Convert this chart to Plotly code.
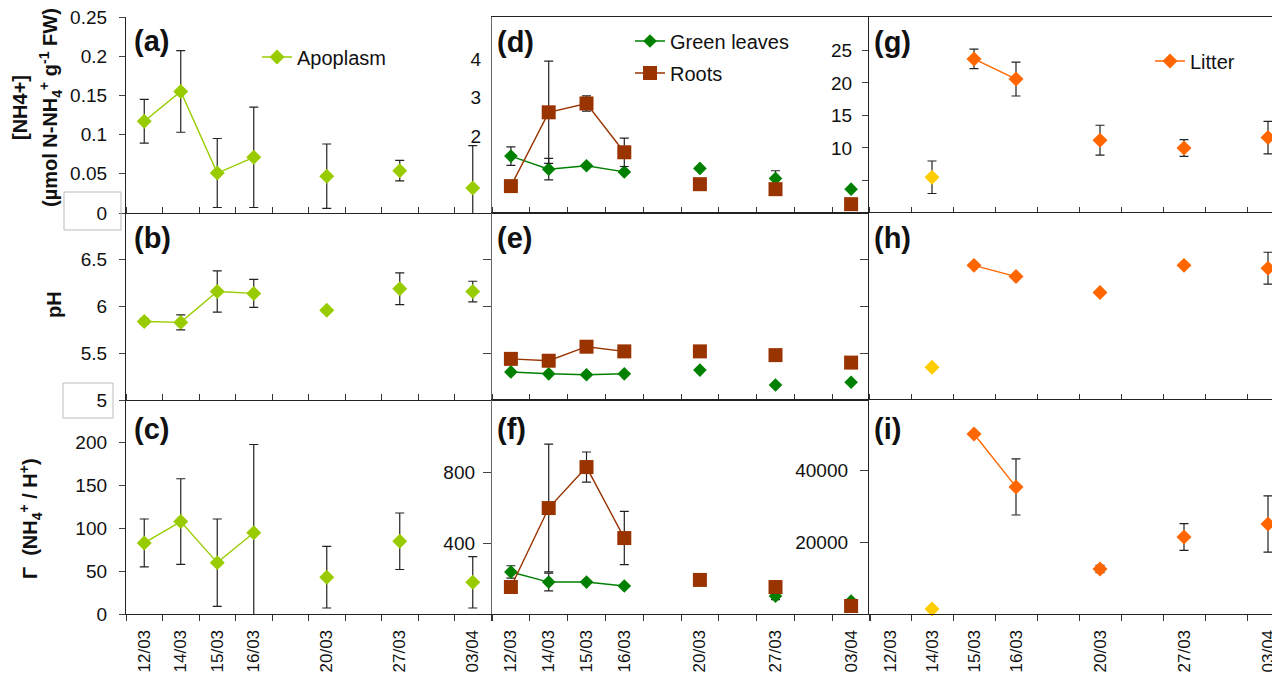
import plotly.graph_objects as go

# ---------------- data ----------------
categories = ['12/03', '14/03', '15/03', '16/03', '', '20/03', '', '27/03', '', '03/04']

# (a)-(c) Apoplasm
apo_nh4 = [0.117, 0.155, 0.051, 0.071, None, 0.047, None, 0.054, None, 0.032]
apo_nh4_err = [0.028, 0.052, 0.044, 0.064, None, 0.041, None, 0.013, None, 0.054]
apo_ph = [5.84, 5.83, 6.16, 6.14, None, 5.96, None, 6.19, None, 6.16]
apo_ph_err = [0.03, 0.08, 0.22, 0.15, None, None, None, 0.17, None, 0.11]
apo_gamma = [83, 108, 60, 95, None, 43, None, 85, None, 37]
apo_gamma_err = [28, 50, 51, 103, None, 36, None, 33, None, 30]

# (d)-(f) Green leaves and Roots
leaf_nh4 = [1.48, 1.14, 1.23, 1.07, None, 1.16, None, 0.90, None, 0.62]
leaf_nh4_err = [0.24, 0.28, None, None, None, None, None, 0.20, None, None]
root_nh4 = [0.70, 2.62, 2.85, 1.58, None, 0.75, None, 0.62, None, 0.23]
root_nh4_err = [None, 1.33, 0.20, 0.37, None, None, None, None, None, None]
leaf_ph = [5.30, 5.28, 5.27, 5.28, None, 5.32, None, 5.16, None, 5.19]
root_ph = [5.44, 5.42, 5.57, 5.52, None, 5.52, None, 5.48, None, 5.40]
root_ph_err = [None, 0.03, None, None, None, None, None, None, None, None]
leaf_gamma = [237, 180, 180, 158, None, 191, None, 101, None, 73]
leaf_gamma_err = [35, 50, None, None, None, None, None, 20, None, None]
root_gamma = [152, 597, 828, 428, None, 192, None, 152, None, 45]
root_gamma_err = [20, 360, 85, 150, None, None, None, None, None, None]

# (g)-(i) Litter (14/03 sample shown separately in yellow)
litter_nh4 = [None, None, 23.7, 20.6, None, 11.2, None, 10.0, None, 11.6]
litter_nh4_err = [None, None, 1.5, 2.6, None, 2.3, None, 1.3, None, 2.5]
early_nh4 = [None, 5.5, None, None, None, None, None, None, None, None]
early_nh4_err = [None, 2.5, None, None, None, None, None, None, None, None]
litter_ph = [None, None, 6.44, 6.32, None, 6.15, None, 6.44, None, 6.41]
litter_ph_err = [None, None, None, None, None, None, None, 0.02, None, 0.17]
early_ph = [None, 5.35, None, None, None, None, None, None, None, None]
litter_gamma = [None, None, 50000, 35300, None, 12500, None, 21400, None, 25000]
litter_gamma_err = [None, None, None, 7800, None, 1000, None, 3700, None, 7800]
early_gamma = [None, 1400, None, None, None, None, None, None, None, None]

# ---------------- layout helpers ----------------
W, H = 1280, 675
OFF = 8  # page body margin
FONT = 'Liberation Sans, Arial, sans-serif'
C_APO = '#99CC00'
C_LEAF = '#008000'
C_ROOT = '#993300'
C_LITTER = '#FF6600'
C_EARLY = '#FFCC00'
ERR = '#222222'


def fx(p):
    return (p - OFF) / W


def fy(p):
    return 1 - (p - OFF) / H


x_pos = list(range(len(categories)))
label_pos = [i for i, c in enumerate(categories) if c]
label_txt = [categories[i] for i in label_pos]
bounds = [i - 0.5 for i in range(len(categories) + 1)]

col_px = [(126, 491), (492, 870), (869, 1280)]
row_px = [(17, 213), (213, 400), (400, 614)]
col_xrange = [[-0.5, 9.5], [-0.5, 9.5], [-0.5, (1280 - 869) / 42 - 0.5]]

fig = go.Figure()


def ax_name(n):
    return '' if n == 1 else str(n)


def add(n, y, err, color, symbol, size, name=None, legend=None, width=1.4):
    e = dict(type='data', array=err, visible=True, color=ERR, thickness=1.2, width=4.5) if err else None
    fig.add_trace(go.Scatter(
        x=x_pos, y=y, xaxis='x' + ax_name(n), yaxis='y' + ax_name(n),
        mode='lines+markers', connectgaps=False,
        line=dict(color=color, width=width),
        marker=dict(symbol=symbol, size=size, color=color),
        error_y=e, name=name or '', showlegend=name is not None,
        legend=legend or 'legend', legendgroup=name, cliponaxis=False))


# panel numbering: 1=a,2=b,3=c,4=d,5=e,6=f,7=g,8=h,9=i
add(1, apo_nh4, apo_nh4_err, C_APO, 'diamond', 11.5, 'Apoplasm', 'legend')
add(2, apo_ph, apo_ph_err, C_APO, 'diamond', 11.5)
add(3, apo_gamma, apo_gamma_err, C_APO, 'diamond', 11.5)

add(4, leaf_nh4, leaf_nh4_err, C_LEAF, 'diamond', 10.5, 'Green leaves', 'legend2')
add(4, root_nh4, root_nh4_err, C_ROOT, 'square', 14, 'Roots', 'legend2')
add(5, leaf_ph, None, C_LEAF, 'diamond', 10.5)
add(5, root_ph, root_ph_err, C_ROOT, 'square', 14)
add(6, leaf_gamma, leaf_gamma_err, C_LEAF, 'diamond', 10.5)
add(6, root_gamma, root_gamma_err, C_ROOT, 'square', 14)

add(7, early_nh4, early_nh4_err, C_EARLY, 'diamond', 11.5)
add(7, litter_nh4, litter_nh4_err, C_LITTER, 'diamond', 11.5, 'Litter', 'legend3')
add(8, early_ph, None, C_EARLY, 'diamond', 11.5)
add(8, litter_ph, litter_ph_err, C_LITTER, 'diamond', 11.5)
add(9, early_gamma, None, C_EARLY, 'diamond', 11.5)
add(9, litter_gamma, litter_gamma_err, C_LITTER, 'diamond', 11.5)

y_specs = {
    1: dict(range=[0, 0.25], tickvals=[0, 0.05, 0.1, 0.15, 0.2, 0.25],
            ticktext=['0', '0.05', '0.1', '0.15', '0.2', '0.25'], ticks='outside', ticklen=6,
            showticklabels=True, standoff=8),
    2: dict(range=[5, 7.0], tickvals=[5, 5.5, 6, 6.5], ticktext=['5', '5.5', '6', '6.5'],
            ticks='outside', ticklen=6, showticklabels=True, standoff=8),
    3: dict(range=[0, 250], tickvals=[0, 50, 100, 150, 200], ticktext=['0', '50', '100', '150', '200'],
            ticks='outside', ticklen=6, showticklabels=True, standoff=8),
    4: dict(range=[0, 5.1], tickvals=[2, 3, 4], ticktext=['2', '3', '4'], ticks='',
            ticklen=0, showticklabels=True, standoff=6),
    5: dict(range=[5, 7.0], tickvals=[5.5, 6, 6.5], ticktext=['', '', ''], ticks='outside',
            ticklen=8, showticklabels=False, standoff=4),
    6: dict(range=[0, 1206], tickvals=[400, 800], ticktext=['400', '800'], ticks='outside',
            ticklen=8, showticklabels=True, standoff=4),
    7: dict(range=[0, 30.15], tickvals=[5, 10, 15, 20, 25], ticktext=['', '10', '15', '20', '25'],
            ticks='outside', ticklen=6, showticklabels=True, standoff=6),
    8: dict(range=[5, 7.0], tickvals=[5.5, 6, 6.5], ticktext=['', '', ''], ticks='outside',
            ticklen=8, showticklabels=False, standoff=4),
    9: dict(range=[0, 59450], tickvals=[20000, 40000], ticktext=['20000', '40000'], ticks='outside',
            ticklen=8, showticklabels=True, standoff=8),
}

layout = {}
for n in range(1, 10):
    col = (n - 1) // 3
    row = (n - 1) % 3
    x0, x1 = col_px[col]
    t, b = row_px[row]
    xd = [fx(x0), min(fx(x1), 1.0)]
    yd = [fy(b), fy(t)]
    line_col = '#666666' if col == 1 else '#222222'
    layout['xaxis' + ax_name(n)] = dict(
        domain=xd, range=col_xrange[col], anchor='y' + ax_name(n), automargin=False,
        showline=True, linecolor='#222222', linewidth=1.3,
        mirror=(col != 0), showgrid=False, zeroline=False,
        tickmode='array', tickvals=label_pos, ticktext=label_txt, ticks='',
        showticklabels=(row == 2), tickangle=-90, ticklabelstandoff=8,
        ticklabeloverflow='allow',
        tickfont=dict(family=FONT, size=17, color='#111'),
        minor=dict(tickmode='array', tickvals=bounds, ticks=('outside' if row == 2 else 'inside'),
                   ticklen=6, tickwidth=1, tickcolor='#333', showgrid=False),
        fixedrange=True)
    s = y_specs[n]
    layout['yaxis' + ax_name(n)] = dict(
        domain=yd, range=s['range'], anchor='x' + ax_name(n), automargin=False,
        showline=True, linecolor=line_col, linewidth=1.3, mirror=(col != 2),
        showgrid=False, zeroline=False,
        tickmode='array', tickvals=s['tickvals'], ticktext=s['ticktext'],
        ticks=s['ticks'], ticklen=s['ticklen'], tickcolor='#444', tickwidth=1,
        showticklabels=s['showticklabels'], ticklabelstandoff=s['standoff'],
        ticklabeloverflow='allow',
        tickfont=dict(family=FONT, size=19, color='#111'), fixedrange=True)

panel_labels = [('(a)', 132, 41), ('(b)', 132, 238), ('(c)', 132, 429),
                ('(d)', 495, 42), ('(e)', 495, 238), ('(f)', 495, 429),
                ('(g)', 872, 42), ('(h)', 872, 238), ('(i)', 872, 429)]
annotations = [dict(text='<b>%s</b>' % t, x=fx(px), y=fy(py), xref='paper', yref='paper',
                    xanchor='left', yanchor='middle', showarrow=False,
                    font=dict(family=FONT, size=29, color='#111')) for t, px, py in panel_labels]

axis_titles = [
    ('<b>[NH4+]</b>', 20, 108),
    ('<b>(µmol N-NH<sub>4</sub><sup>+</sup> g<sup>-1</sup> FW)</b>', 50, 108),
    ('<b>pH</b>', 54, 305),
    ('<b>Γ\u00a0\u00a0(NH<sub>4</sub><sup>+</sup> / H<sup>+</sup>)</b>', 30, 519),
]
for t, px, py in axis_titles:
    annotations.append(dict(text=t, x=fx(px), y=fy(py), xref='paper', yref='paper',
                            xanchor='center', yanchor='middle', textangle=-90, showarrow=False,
                            font=dict(family=FONT, size=20, color='#111')))

shapes = [
    dict(type='rect', xref='paper', yref='paper', x0=fx(64), x1=fx(121), y0=fy(230), y1=fy(192),
         line=dict(color='#bbbbbb', width=1), fillcolor='rgba(0,0,0,0)'),
    dict(type='rect', xref='paper', yref='paper', x0=fx(63), x1=fx(113), y0=fy(418), y1=fy(383),
         line=dict(color='#bbbbbb', width=1), fillcolor='rgba(0,0,0,0)'),
]

leg_common = dict(xanchor='left', yanchor='middle', bgcolor='rgba(0,0,0,0)', borderwidth=0,
                  font=dict(family=FONT, size=20, color='#111'), tracegroupgap=3)

layout.update(
    width=W, height=H, margin=dict(l=0, r=0, t=0, b=0, autoexpand=False),
    paper_bgcolor='white', plot_bgcolor='white',
    font=dict(family=FONT, color='#111'),
    annotations=annotations, shapes=shapes,
    legend=dict(x=fx(257), y=fy(57), **leg_common),
    legend2=dict(x=fx(630), y=fy(57), **leg_common),
    legend3=dict(x=fx(1150), y=fy(61), **leg_common),
)
fig.update_layout(layout)
fig.write_html('out.html')
